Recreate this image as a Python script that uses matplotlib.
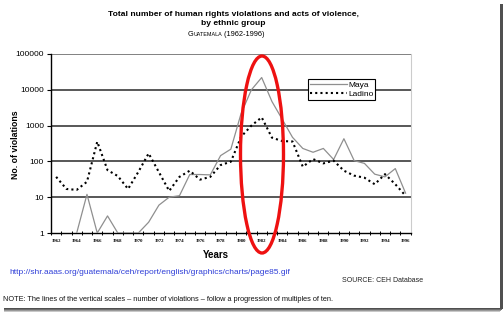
import numpy as np
import matplotlib
matplotlib.use("Agg")
import matplotlib.pyplot as plt
from matplotlib.patches import Ellipse, Rectangle
from matplotlib.ticker import FixedLocator, FixedFormatter, NullFormatter

# ---- data ----
years = list(range(1962, 1997))
maya = [np.nan, np.nan, 1, 12, 1, 3, 1, 1, 1, 2, 6, 10, 11, 43, 43, 42, 145, 220,
        2200, 10000, 22000, 4700, 1500, 470, 230, 180, 230, 113, 430, 105, 88, 44, 37, 63, 13]
ladino = [37, 17, 16, 27, 355, 57, 39, 17, 51, 167, 50, 15, 37, 55, 31, 37, 79, 98,
          490, 1000, 1700, 460, 370, 360, 71, 116, 88, 105, 55, 40, 35, 23, 44, 23, 11]
ytick_vals = [1, 10, 100, 1000, 10000, 100000]
ytick_labels = ["1", "10", "100", "1000", "10000", "100000"]
xlabel_years = list(range(1962, 1997, 2))

W, H = 504, 312
fig = plt.figure(figsize=(W / 100, H / 100), dpi=100)
fig.patch.set_facecolor("white")

def fx(x):
    return x / W

def fy(y):
    return 1 - y / H

# frame with shadow (right and bottom)
for i, c in enumerate(["#c8c8c8", "#999999", "#6e6e6e", "#505050"]):
    fig.patches.append(Rectangle((fx(4), fy(311.5 - i)), fx(499.5 + i - 4 + 0.5), (311.5 - i - 4) / H,
                                 transform=fig.transFigure, facecolor=c, edgecolor="none", zorder=-10 + i))
fig.patches.append(Rectangle((0, fy(307.5)), fx(499.5), 307.5 / H, transform=fig.transFigure,
                             facecolor="white", edgecolor="none", zorder=-5))

ax = fig.add_axes([fx(51), fy(233), fx(410.7 - 51), (233 - 54) / H])
ax.set_facecolor("none")
ax.set_yscale("log")
ax.set_ylim(1, 100000)
ax.set_xlim(1961.5, 1996.5)

for v in ytick_vals[1:]:
    ax.axhline(v, color="#777777" if v == 100000 else "#4a4a4a", lw=1.3, zorder=1)

ax.plot(years, maya, color="#8f8f8f", lw=0.9, zorder=3, label="Maya")
ax.plot(years, ladino, color="black", lw=1.5, ls=(0, (1, 1.5)), zorder=4, label="Ladino")

ax.yaxis.set_major_locator(FixedLocator(ytick_vals))
ax.yaxis.set_major_formatter(FixedFormatter(ytick_labels))
ax.yaxis.set_minor_locator(FixedLocator([]))
ax.tick_params(axis="y", which="major", length=3, width=0.8, labelsize=6, pad=2)
for t in ax.get_yticklabels():
    t.set_fontfamily("Liberation Sans")

ax.xaxis.set_major_locator(FixedLocator([y + 0.5 for y in range(1961, 1997)]))
ax.xaxis.set_major_formatter(NullFormatter())
ax.xaxis.set_minor_locator(FixedLocator(xlabel_years))
ax.xaxis.set_minor_formatter(FixedFormatter([str(y) for y in xlabel_years]))
ax.tick_params(axis="x", which="major", direction="inout", length=3, width=0.7)
ax.tick_params(axis="x", which="minor", length=0, labelsize=3.4, pad=4)
for t in ax.get_xticklabels(minor=True):
    t.set_fontfamily("Liberation Serif")
    t.set_fontweight("bold")

ax.spines["left"].set_color("black")
ax.spines["left"].set_linewidth(1.0)
ax.spines["bottom"].set_color("black")
ax.spines["bottom"].set_linewidth(1.0)
ax.spines["top"].set_visible(False)
ax.spines["right"].set_color("#cccccc")
ax.spines["right"].set_linewidth(0.8)

leg = ax.legend(loc="upper left", bbox_to_anchor=(fx(307.5), fy(79)), bbox_transform=fig.transFigure,
                borderaxespad=0, fancybox=False, framealpha=1, edgecolor="black",
                prop={"family": "Liberation Sans", "size": 6.0}, handlelength=4.5,
                handletextpad=0.1, borderpad=0.25, labelspacing=0.12)
leg.get_frame().set_linewidth(0.8)

# texts
fig.text(fx(233), fy(15), "Total number of human rights violations and acts of violence,",
         ha="center", va="center", fontsize=6.1, fontweight="bold", family="Liberation Sans")
fig.text(fx(233), fy(23.5), "by ethnic group",
         ha="center", va="center", fontsize=6.1, fontweight="bold", family="Liberation Sans")

# small caps subtitle
fig.canvas.draw()
r = fig.canvas.get_renderer()
parts = [("G", 5.3), ("UATEMALA", 3.9), (" (1962-1996)", 5.3)]
tmp = []
total = 0
for s, fs in parts:
    t = fig.text(0, 0, s, fontsize=fs, family="Liberation Sans")
    w = t.get_window_extent(r).width
    tmp.append((t, w))
    total += w
x0 = 226 - total / 2
for t, w in tmp:
    t.set_position((fx(x0), fy(36.5)))
    t.set_va("baseline")
    x0 += w

fig.text(fx(16), fy(145), "No. of violations", rotation=90, ha="center", va="center",
         fontsize=6.3, fontweight="bold", family="Liberation Sans")
fig.text(fx(216), fy(255), "Years", ha="center", va="center",
         fontsize=7, fontweight="bold", family="Liberation Sans")
fig.text(fx(9.5), fy(272.5), "http://shr.aaas.org/guatemala/ceh/report/english/graphics/charts/page85.gif",
         ha="left", va="center", fontsize=6, color="#2f3fd8", family="Liberation Sans")
fig.text(fx(342), fy(280), "SOURCE: CEH Database", ha="left", va="center",
         fontsize=5, color="#222222", family="Liberation Sans")
fig.text(fx(2.7), fy(299.3),
         "NOTE: The lines of the vertical scales \u2013 number of violations \u2013 follow a progression of multiples of ten.",
         ha="left", va="center", fontsize=5.3, color="#111111", family="Liberation Sans")

# red ellipse highlight
fig.patches.append(Ellipse((fx(262), fy(154.5)), 43 / W, 197 / H, transform=fig.transFigure,
                           fill=False, edgecolor="#ee1111", lw=2.4, zorder=10))

fig.savefig("out.png", dpi=100)
